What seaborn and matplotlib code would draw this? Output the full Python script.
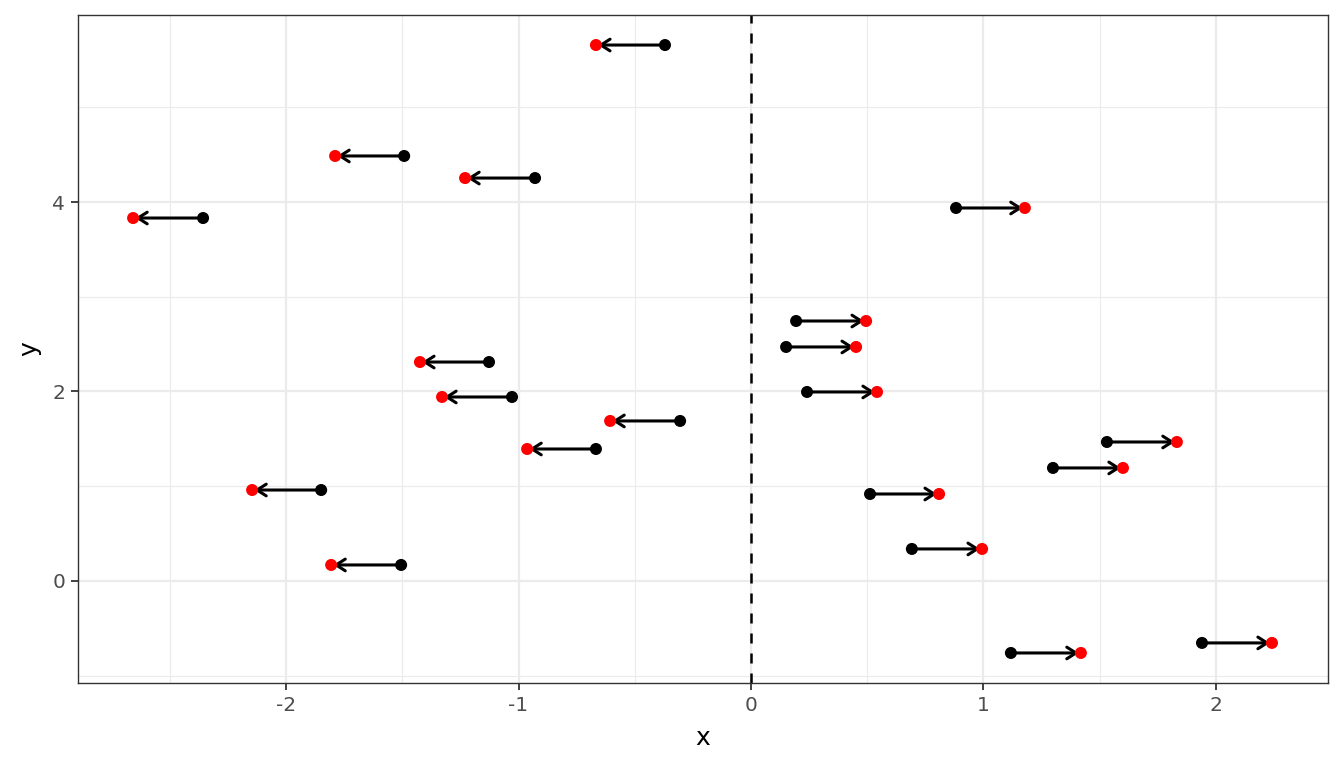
import numpy as np
import pandas as pd
import matplotlib
matplotlib.use("Agg")
import matplotlib.pyplot as plt
import seaborn as sns
from matplotlib.ticker import MultipleLocator

# --- data ---
y_vals = [5.657, 4.486, 4.253, 3.831, 3.937, 2.744, 2.470, 2.311, 1.995, 1.942,
          1.689, 1.393, 1.467, 1.193, 0.960, 0.918, 0.169, 0.338, -0.760, -0.654]
x_start = [-0.370, -1.492, -0.929, -2.357, 0.882, 0.194, 0.151, -1.127, 0.241, -1.028,
           -0.305, -0.667, 1.531, 1.299, -1.849, 0.512, -1.505, 0.692, 1.118, 1.940]
x_end = [-0.667, -1.789, -1.230, -2.658, 1.178, 0.495, 0.452, -1.424, 0.542, -1.329,
         -0.606, -0.963, 1.832, 1.600, -2.146, 0.809, -1.806, 0.994, 1.419, 2.241]

df = pd.DataFrame({"x0": x_start, "x1": x_end, "y": y_vals})

sns.set_theme(style="white")
plt.rcParams['font.family'] = ['DejaVu Sans']

fig = plt.figure(figsize=(13.44, 7.68), dpi=100)
ax = fig.add_axes([78 / 1344, 1 - 683 / 768, 1250 / 1344, 668 / 768])

# arrows from start to end
for _, r in df.iterrows():
    ax.annotate("", xy=(r.x1, r.y), xytext=(r.x0, r.y),
                arrowprops=dict(arrowstyle="->,head_length=0.55,head_width=0.35",
                                color="black", lw=2.2, shrinkA=0, shrinkB=1.5),
                zorder=3)

sns.scatterplot(data=df, x="x0", y="y", color="black", s=75, edgecolor="none", ax=ax, zorder=4)
sns.scatterplot(data=df, x="x1", y="y", color="red", s=75, edgecolor="none", ax=ax, zorder=4)

ax.axvline(0, color="black", linestyle=(0, (4, 4)), lw=1.8, zorder=2)

ax.set_xlim(-2.895, 2.482)
ax.set_ylim(-1.077, 5.974)
ax.xaxis.set_major_locator(MultipleLocator(1))
ax.xaxis.set_minor_locator(MultipleLocator(0.5))
ax.yaxis.set_major_locator(MultipleLocator(2))
ax.yaxis.set_minor_locator(MultipleLocator(1))
ax.set_xticks([-2, -1, 0, 1, 2])
ax.set_xticklabels(["-2", "-1", "0", "1", "2"])
ax.set_yticks([0, 2, 4])
ax.set_yticklabels(["0", "2", "4"])

ax.grid(which="major", color="#ebebeb", lw=1.6, zorder=0)
ax.grid(which="minor", color="#ebebeb", lw=0.8, zorder=0)
ax.set_axisbelow(True)

for s in ax.spines.values():
    s.set_color("#333333")
    s.set_linewidth(1.0)

ax.tick_params(which="major", axis="both", length=5.3, width=1.3, color="#333333",
               labelsize=14.5, labelcolor="#4d4d4d", pad=4)
ax.tick_params(which="minor", length=0)
ax.tick_params(axis="x", bottom=True)
ax.tick_params(axis="y", left=True)

ax.set_xlabel("x", fontsize=18, color="black", labelpad=8)
ax.set_ylabel("y", fontsize=18, color="black", labelpad=8)

fig.savefig("out.png", dpi=100)
